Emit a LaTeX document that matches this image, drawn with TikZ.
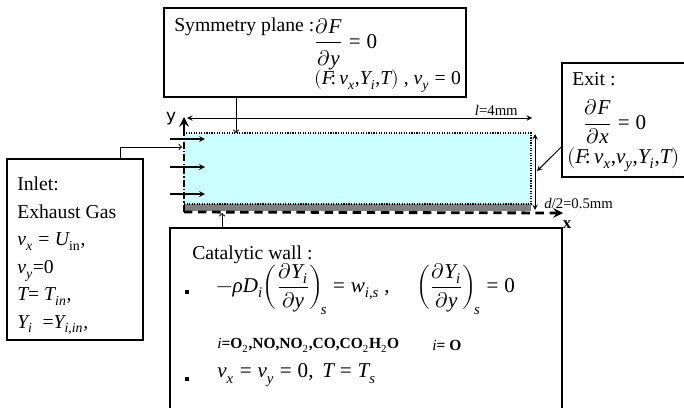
\documentclass[tikz,border=0pt]{standalone}
\usepackage{amsmath}
\usepackage{fontspec}
\usepackage{unicode-math}
\setmainfont{Liberation Serif}
\setmathfont{Latin Modern Math}
\setmathfont[range={it/{latin,Latin,greek,Greek}}]{Liberation Serif Italic}
\setmathfont[range={up/{latin,Latin,num}}]{Liberation Serif}
\setmathfont[range={"003D,"002C,"003A,"002F}]{Liberation Serif}
\newfontfamily\axisfont{DejaVu Sans}
\usetikzlibrary{fit}
\definecolor{chan}{RGB}{204,255,255}

\begin{document}
\begin{tikzpicture}[x=0.25mm, y=-0.25mm, >=stealth,
    box/.style={draw, line width=1pt, inner sep=0pt},
    txt/.style={inner sep=0pt, font=\fontsize{14}{19.5}\selectfont},
    eqn/.style={inner sep=0pt, font=\fontsize{15}{18}\selectfont},
    small/.style={inner sep=0pt, font=\fontsize{10.5}{12}\selectfont},
    conn/.style={line width=0.7pt, -to},
    bullet/.style={fill, minimum size=3.5pt, inner sep=0pt}]

    \useasboundingbox (0,0) rectangle (684,407);

    % --- Channel ---
    \coordinate (tl) at (184,133);
    \coordinate (tr) at (531,133);
    \coordinate (br) at (531,204);
    \coordinate (bl) at (184,204);
    \coordinate (o) at (184,212);
    \fill[chan] (tl) rectangle (br);
    \fill[gray] (bl) rectangle (531,211);
    \draw[densely dotted, line width=0.8pt] (bl) -- (br) -- (tr) -- (tl);

    % --- Axes ---
    \draw[line width=2pt, dash pattern=on 6pt off 4pt, -stealth] (o) -- (563,213) coordinate (xend);
    \draw[line width=1.6pt, dash pattern=on 5pt off 1.5pt on 1pt off 1.5pt] (o) -- (tl);
    \draw[line width=2pt, -stealth] (tl) -- (184,117) coordinate (yend);
    \node[font=\axisfont\fontsize{12}{12}\selectfont] (ylab) at (171,119) {y};
    \node[font=\bfseries\fontsize{12}{12}\selectfont] (xlab) at (567,225) {x};

    % inlet profile
    \foreach \y in {139,167,194}
        \draw[->, line width=0.8pt] (170,\y) -- (205,\y);

    % --- Dimensions ---
    \coordinate (lA) at (187,118);
    \coordinate (lB) at (532,118);
    \draw[<->, line width=0.7pt] (lA) -- (lB);
    \node[small, anchor=south east] (llab) at (518,116) {$l$=4mm};
    \coordinate (dA) at (535,134);
    \coordinate (dB) at (535,210);
    \draw[<->, line width=0.7pt] (dA) -- (dB);
    \node[small, anchor=west] (dlab) at (544,203) {$d/2$=0.5mm};

    % --- Symmetry plane ---
    \node[box, fit={(164,8) (466,97)}] (symbox) {};
    \node[txt, anchor=base west] (symtitle) at (174,31) {Symmetry plane :};
    \node[eqn, anchor=base west] (symeq) at (314,48)
        {$\dfrac{\partial F}{\rule{0pt}{0.95em}\partial y} = 0$};
    \node[txt, anchor=west] (symvar) at (314,81) {$(F\!: v_x{,}Y_i{,}T)$ ,\ $v_y = 0$};
    \coordinate (symtip) at (236,133);
    \draw[conn] (symbox.south -| symtip) -- (symtip);

    % --- Exit ---
    \node[box, fit={(562,63) (692,177)}] (exitbox) {};
    \node[txt, anchor=base west] (exittitle) at (572,85) {Exit :};
    \node[eqn, anchor=west] (exiteq) at (583,122) {$\dfrac{\partial F}{\partial x} = 0$};
    \node[eqn, anchor=west] (exitvar) at (567,160) {$(F\!: v_x{,}v_y{,}Y_i{,}T)$};
    \coordinate (exittip) at (537,171);
    \draw[conn, -stealth] (exitbox.west |- 0,147) -- (exittip);

    % --- Inlet ---
    \node[box, fit={(7,159) (143,340)}] (inletbox) {};
    \node[txt, anchor=north west, align=left] (inlettext) at (17,177)
        {Inlet:\\ Exhaust Gas\\ $v_x = U_{\mathrm{in}}$,\\ $v_y$=0\\
         $T$= $T_{in}$,\\ $Y_i$\ \ =$Y_{i,in}$,};
    \coordinate (inlettip) at (182,147);
    \draw[conn] (inletbox.north -| 120,0) |- (inlettip);

    % --- Catalytic wall ---
    \node[box, fit={(170,228) (562,420)}] (catbox) {};
    \node[txt, anchor=base west] (cattitle) at (192,259) {Catalytic wall :};
    \node[bullet] (b1) at (187,292) {};
    \node[eqn, anchor=west] (cateq) at (216,289)
        {$-\rho D_i\!\left(\dfrac{\partial Y_i}{\partial y}\right)_{\!s} = w_{i,s}$\ ,};
    \node[eqn, anchor=west] (cateq2) at (416,289)
        {$\left(\dfrac{\partial Y_i}{\partial y}\right)_{\!s} = 0$};
    \node[small, anchor=west, font=\bfseries\fontsize{11}{12}\selectfont] (species) at (217,345)
        {$i$=O$_2$,NO,NO$_2$,CO,CO$_2$H$_2$O};
    \node[small, anchor=west, font=\bfseries\fontsize{11}{12}\selectfont] (inert) at (432,345) {$i$= O};
    \node[bullet] (b2) at (187,379) {};
    \node[eqn, anchor=west] (catbc) at (217,375) {$v_x = v_y = 0,\ T = T_s$};
    \coordinate (cattip) at (222,213);
    \draw[conn] (catbox.north -| cattip) -- (cattip);

\end{tikzpicture}
\end{document}
